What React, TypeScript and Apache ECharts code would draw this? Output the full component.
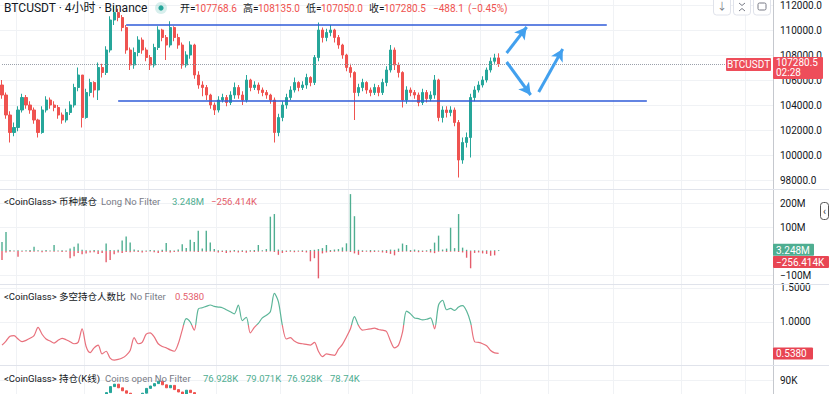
import React, { useEffect, useRef } from "react";
import * as echarts from "echarts";

const SLOTS = 193;
const categories = Array.from({ length: SLOTS }, (_, i) => String(i));

const priceOpen0 = 105600;
const priceClose = [
  104800, 103200, 101800, 102200, 103600, 104600, 104000, 103600, 102800, 101800,
  103600, 104400, 104000, 103800, 103200, 102800, 103400, 104000, 105400, 106400,
  103000, 105000, 105800, 105200, 107000, 106600, 108400, 110800, 111400, 111000,
  110200, 108400, 107200, 108200, 109200, 108400, 107800, 107200, 108600, 110000,
  109400, 108800, 110200, 109400, 108800, 107200, 108000, 108800, 106400, 105600,
  105400, 104800, 104000, 103600, 104400, 104600, 104200, 104800, 105400, 104800,
  104400, 106000, 105400, 105600, 105200, 105000, 104800, 104400, 101800, 103000,
  104000, 104600, 105200, 105800, 105400, 105600, 106200, 105800, 107800, 110000,
  109400, 109800, 110000, 109400, 108800, 108000, 107000, 106600, 105000, 105400,
  105800, 105200, 105000, 105400, 105000, 105800, 106800, 108400, 107200, 106600,
  104400, 105200, 105000, 104800, 104200, 105000, 104500, 104800, 106000, 103000,
  103600, 103400, 103600, 102600, 99600, 101000, 101400, 104600, 105200, 105600,
  106000, 106800, 107500, 107768.6, 107280.5,
];
const priceHigh = [
  106000, 105000, 103500, 102600, 103900, 104900, 104800, 104300, 103800, 102900,
  103900, 104700, 104600, 104300, 104000, 103400, 103700, 104300, 105700, 107000,
  106400, 105300, 106100, 105900, 107400, 107300, 108700, 111100, 111900, 111700,
  111200, 110400, 108600, 108600, 109500, 109400, 108600, 108000, 108900, 110300,
  110100, 109600, 110700, 110300, 109700, 109000, 108300, 109100, 108900, 106700,
  105900, 105600, 104900, 104200, 104700, 104900, 104800, 105100, 105800, 105600,
  105100, 106400, 106100, 105900, 105800, 105400, 105200, 104900, 104600, 103300,
  104300, 104900, 105500, 106200, 105900, 105900, 106500, 106300, 108000, 110600,
  110200, 110100, 110400, 110100, 109600, 108900, 108100, 107300, 106700, 105700,
  106100, 105900, 105400, 105700, 105600, 106100, 107100, 108800, 108600, 107400,
  106700, 105500, 105400, 105200, 105000, 105300, 105200, 105100, 106400, 106100,
  103900, 103900, 103900, 103800, 102800, 101400, 101800, 104900, 105500, 105900,
  106300, 107000, 107800, 108100, 108135,
];
const priceLow = [
  104500, 102900, 101000, 101500, 101900, 103400, 103700, 103300, 102500, 101400,
  101700, 103400, 103700, 103500, 102900, 102500, 102600, 103200, 103800, 105100,
  102200, 102900, 104700, 104600, 104400, 106200, 106400, 108200, 110400, 110700,
  109900, 108100, 106800, 106900, 107900, 108100, 107500, 106800, 107000, 108400,
  109100, 107600, 108600, 109100, 108500, 106900, 107000, 107700, 106100, 105300,
  104700, 104400, 103700, 103200, 103400, 104200, 103900, 104000, 104500, 104500,
  104000, 104200, 105100, 105200, 104900, 104700, 104500, 104100, 101000, 101500,
  102700, 103700, 104400, 105000, 105100, 105200, 105300, 105500, 105600, 107500,
  109000, 109100, 109500, 109000, 108500, 107700, 106700, 106200, 102800, 104700,
  105100, 104900, 104700, 104800, 104700, 104800, 105500, 106600, 106800, 106200,
  103800, 104100, 104700, 104500, 103900, 104000, 104200, 104300, 104500, 102700,
  102600, 103000, 103100, 102300, 98200, 99300, 100600, 99800, 104300, 105000,
  105400, 105800, 106600, 107300, 107050,
];

const liqLong = [
  38, 79, 4, 2, 3, 2, 3, 4, 18, 3, 2, 4, 2, 25, 2, 3, 2, 10, 18, 31,
  5, 3, 2, 4, 3, 2, 31, 4, 3, 5, 44, 60, 35, 6, 3, 2, 2, 4, 3, 2,
  5, 33, 3, 2, 6, 28, 12, 47, 37, 84, 10, 84, 35, 8, 3, 2, 3, 2, 4, 2,
  3, 2, 3, 4, 25, 3, 8, 143, 154, 6, 3, 2, 3, 2, 2, 3, 2, 4, 5, 8,
  12, 25, 4, 6, 8, 15, 32, 237, 145, 5, 3, 2, 4, 3, 2, 3, 4, 6, 5, 10,
  31, 25, 4, 6, 3, 2, 3, 8, 35, 64, 6, 10, 97, 12, 154, 14, 5, 2, 3, 2,
  2, 3, 2, 3, 3.248,
];
const liqShort = [
  -37, -6, -3, -2, -24, -3, -2, -4, -3, -2, -5, -3, -2, -3, -2, -4, -3, -30, -22, -8,
  -14, -10, -6, -5, -12, -8, -47, -37, -14, -6, -8, -4, -5, -3, -4, -6, -3, -2, -5, -8,
  -4, -3, -6, -4, -3, -2, -3, -2, -3, -4, -2, -3, -2, -3, -6, -4, -8, -5, -3, -6,
  -4, -7, -3, -4, -3, -2, -3, -2, -4, -16, -8, -4, -3, -5, -3, -4, -6, -43, -30, -114,
  -10, -6, -4, -3, -2, -3, -2, -4, -10, -16, -4, -3, -5, -4, -3, -6, -8, -12, -18, -4,
  -3, -2, -4, -3, -5, -4, -3, -6, -9, -3, -2, -4, -3, -2, -4, -6, -28, -72, -8, -6,
  -10, -12, -20, -18, -0.256414,
];

const lsRatio = [
  0.66, 0.72, 0.79, 0.8, 0.75, 0.71, 0.73, 0.76, 0.8, 0.92,
  0.82, 0.75, 0.72, 0.69, 0.73, 0.76, 0.74, 0.71, 0.68, 0.7,
  0.9, 0.64, 0.55, 0.62, 0.66, 0.53, 0.57, 0.47, 0.44, 0.45,
  0.47, 0.51, 0.58, 0.77, 0.68, 0.7, 0.82, 0.84, 0.78, 0.68,
  0.64, 0.62, 0.59, 0.57, 0.68, 0.88, 1.05, 1.0, 0.88, 1.19,
  1.21, 1.23, 1.25, 1.23, 1.22, 1.21, 1.18, 1.15, 1.12, 1.25,
  1.02, 1.07, 0.84, 0.92, 0.98, 1.06, 1.1, 1.15, 1.42, 1.3,
  0.95, 0.75, 0.77, 0.72, 0.69, 0.68, 0.67, 0.66, 0.7, 0.57,
  0.49, 0.53, 0.52, 0.51, 0.6, 0.67, 0.78, 0.9, 1.08, 0.95,
  0.88, 0.89, 0.9, 0.91, 0.89, 0.88, 0.86, 0.72, 0.62, 0.66,
  0.85, 1.16, 1.12, 1.06, 1.05, 1.03, 1.04, 1.06, 0.9, 1.25,
  1.32, 1.18, 1.2, 1.17, 1.22, 1.24, 1.16, 0.99, 0.71, 0.7,
  0.68, 0.65, 0.58, 0.545, 0.538,
];

const oiOpen0 = 85.0;
const oiClose = [
  85.4, 85.9, 86.3, 85.8, 85.5, 85.9, 86.2, 86.0, 86.4, 86.8,
  86.1, 85.7, 85.9, 86.3, 86.6, 86.9, 86.5, 86.2, 85.8, 85.4,
  86.0, 86.4, 86.1, 86.7, 87.0, 87.3, 87.9, 88.9, 89.3, 88.7,
  88.2, 87.8, 87.0, 86.5, 87.2, 87.8, 88.6, 89.0, 89.4, 89.8,
  89.2, 88.7, 89.1, 88.4, 88.0, 87.5, 88.3, 87.9, 86.8, 85.9,
  85.3, 84.8, 84.2, 83.9, 84.3, 84.6, 84.1, 84.5, 84.9, 84.4,
  84.0, 84.7, 84.3, 84.5, 84.2, 83.9, 83.6, 83.2, 81.8, 82.3,
  82.8, 83.1, 83.5, 83.9, 83.6, 83.8, 84.2, 84.0, 84.9, 85.8,
  85.4, 85.6, 85.9, 85.5, 85.1, 84.7, 84.2, 83.9, 82.6, 82.9,
  83.2, 82.9, 82.7, 83.0, 82.8, 83.3, 83.8, 84.5, 84.0, 83.6,
  82.4, 82.8, 82.6, 82.5, 82.1, 82.4, 82.0, 82.2, 82.8, 81.3,
  81.0, 80.6, 80.1, 79.6, 77.9, 78.2, 78.5, 79.3, 79.6, 79.4,
  79.0, 78.6, 78.2, 76.928, 78.74,
];

const priceTicks = [98000, 100000, 102000, 104000, 106000, 108000, 110000, 112000];
const liqTicks = [-100, 100, 200];
const ratioTicks = [1.0, 1.5];
const oiTicks = [90];
const timeGridIdx = [4, 21, 37, 54, 70, 87, 103, 120, 137, 153, 170, 186];

const resistance = 110400;
const support = 104320;
const lastPrice = 107280.5;
const lastLong = 3.248;
const lastShort = -0.256414;
const lastRatio = 0.538;
const ratioSplit = 0.95;

const levelLines = [
  { price: resistance, from: 31, to: 151 },
  { price: support, from: 29, to: 161 },
];
const arrows = [
  [[126, 108160], [131, 110240]],
  [[126, 107440], [132, 104800]],
  [[134, 105040], [140, 108480]],
];

const UP = "#26a69a";
const DOWN = "#ef5350";
const TXT = "#131722";
const GREY = "#787b86";
const FONT = 'Roboto, "Noto Sans CJK SC", sans-serif';
const GRIDC = "#f0f2f5";
const AXISC = "#c5c8ce";
const RATIO_UP = "#5bb598";
const RATIO_DN = "#e8707c";
const LIQ_UP = "#4fae91";
const LIQ_DN = "#e45d6b";
const TAG_RED = "#ee4d5a";

function txt(x: number, y: number, text: string, fill: string, size = 10, align = "left", z = 50) {
  return {
    type: "text",
    x,
    y,
    z,
    silent: true,
    style: { text, fill, fontSize: size, fontFamily: FONT, align, verticalAlign: "middle" },
  };
}

function tag(x: number, yTop: number, w: number, h: number, fill: string, text: string) {
  return [
    { type: "rect", z: 60, silent: true, shape: { x, y: yTop, width: w, height: h, r: 1 }, style: { fill } },
    txt(x + 3, yTop + h / 2 + 0.5, text, "#ffffff", 10, "left", 61),
  ];
}

export default function App() {
  const ref = useRef<HTMLDivElement>(null);
  useEffect(() => {
    if (!ref.current) return;
    const chart = echarts.init(ref.current, null, { renderer: "svg" });

    const candles = priceClose.map((c, i) => [
      i === 0 ? priceOpen0 : priceClose[i - 1],
      c,
      priceLow[i],
      priceHigh[i],
    ]);
    const oiCandles = oiClose.map((c, i) => {
      const o = i === 0 ? oiOpen0 : oiClose[i - 1];
      return [o, c, Math.min(o, c), Math.max(o, c)];
    });

    const xAxisBase = (gridIndex: number) => ({
      type: "category",
      gridIndex,
      data: categories,
      boundaryGap: true,
      axisLine: { show: false },
      axisTick: { show: false },
      axisLabel: { show: false },
      splitLine: {
        show: true,
        interval: (idx: number) => timeGridIdx.indexOf(idx) >= 0,
        lineStyle: { color: GRIDC, width: 1 },
      },
    });
    const yAxisBase = (gridIndex: number, min: number, max: number, ticks: number[], fmt: (v: number) => string) => ({
      type: "value",
      gridIndex,
      position: "right",
      min,
      max,
      axisLine: { show: true, onZero: false, lineStyle: { color: AXISC, width: 1 } },
      axisTick: { show: false, customValues: ticks },
      axisLabel: {
        customValues: ticks,
        formatter: fmt,
        color: TXT,
        fontSize: 10,
        fontFamily: FONT,
        margin: 7,
      },
      splitLine: { show: true, lineStyle: { color: GRIDC, width: 1 } },
    });

    const lineData: any[] = [];
    levelLines.forEach((l) => {
      lineData.push([
        { coord: [l.from, l.price], lineStyle: { color: "#2f5bd8", width: 1.5, type: "solid" } },
        { coord: [l.to, l.price] },
      ]);
    });
    lineData.push([
      { coord: [0, lastPrice], lineStyle: { color: "#9aa0aa", width: 1, type: "dotted" } },
      { coord: [SLOTS - 1, lastPrice] },
    ]);
    const arrowData: any[] = arrows.map((a) => [{ coord: a[0] }, { coord: a[1] }]);

    chart.setOption({
      animation: false,
      backgroundColor: "#ffffff",
      textStyle: { fontFamily: FONT },
      grid: [
        { left: 0, right: 56, top: 0, height: 189 },
        { left: 0, right: 56, top: 190, height: 94 },
        { left: 0, right: 56, top: 285, height: 80 },
        { left: 0, right: 56, top: 366, height: 28 },
      ],
      xAxis: [xAxisBase(0), xAxisBase(1), xAxisBase(2), xAxisBase(3)],
      yAxis: [
        yAxisBase(0, 97280, 112400, priceTicks, (v: number) => v.toFixed(1)),
        yAxisBase(1, -137.5, 254.17, liqTicks, (v: number) => (v < 0 ? "\u2212" + Math.abs(v) + "M" : v + "M")),
        yAxisBase(2, 0.3676, 1.5441, ratioTicks, (v: number) => v.toFixed(4)),
        yAxisBase(3, 87.667, 92.333, oiTicks, (v: number) => v + "K"),
      ],
      series: [
        {
          type: "candlestick",
          xAxisIndex: 0,
          yAxisIndex: 0,
          data: candles,
          barWidth: 2.6,
          itemStyle: { color: UP, color0: DOWN, borderColor: UP, borderColor0: DOWN, borderWidth: 1 },
          markLine: {
            silent: true,
            animation: false,
            symbol: ["none", "none"],
            label: { show: false },
            data: lineData,
          },
        },
        {
          type: "bar",
          xAxisIndex: 1,
          yAxisIndex: 1,
          data: liqLong,
          barWidth: 1.4,
          barGap: "-100%",
          itemStyle: { color: LIQ_UP },
        },
        {
          type: "bar",
          xAxisIndex: 1,
          yAxisIndex: 1,
          data: liqShort,
          barWidth: 1.4,
          barGap: "-100%",
          itemStyle: { color: LIQ_DN },
        },
        {
          id: "ratio",
          type: "line",
          xAxisIndex: 2,
          yAxisIndex: 2,
          data: lsRatio,
          showSymbol: false,
          smooth: 0.3,
          lineStyle: { width: 1.2, color: RATIO_DN },
        },
        {
          type: "candlestick",
          xAxisIndex: 3,
          yAxisIndex: 3,
          data: oiCandles,
          clip: true,
          barWidth: 2.6,
          itemStyle: { color: UP, color0: DOWN, borderColor: UP, borderColor0: DOWN, borderWidth: 1 },
        },
        {
          type: "line",
          xAxisIndex: 0,
          yAxisIndex: 0,
          data: [],
          markLine: {
            silent: true,
            animation: false,
            symbol: ["none", "arrow"],
            symbolSize: [10, 12],
            label: { show: false },
            lineStyle: { color: "#42a0ee", width: 3, type: "solid" },
            data: arrowData,
          },
        },
      ],
    });

    const py = chart.convertToPixel({ gridIndex: 0 }, [0, lastPrice])[1];
    const gy = chart.convertToPixel({ gridIndex: 1 }, [0, lastLong])[1];
    const ry = chart.convertToPixel({ gridIndex: 1 }, [0, lastShort])[1];
    const qy = chart.convertToPixel({ gridIndex: 2 }, [0, lastRatio])[1];
    const sy = chart.convertToPixel({ gridIndex: 2 }, [0, ratioSplit])[1];
    const top2 = 285;
    const bot2 = 365;
    const f = (sy - top2) / (bot2 - top2);
    const HS = 9.5;

    const g: any[] = [
      { type: "line", silent: true, z: 40, shape: { x1: 0, y1: 189.5, x2: 829, y2: 189.5 }, style: { stroke: "#e0e3eb", lineWidth: 1 } },
      { type: "line", silent: true, z: 40, shape: { x1: 0, y1: 284.5, x2: 829, y2: 284.5 }, style: { stroke: "#e0e3eb", lineWidth: 1 } },
      { type: "line", silent: true, z: 40, shape: { x1: 0, y1: 365.5, x2: 829, y2: 365.5 }, style: { stroke: "#e0e3eb", lineWidth: 1 } },
      txt(4, 8, "BTCUSDT · 4小时 · Binance", TXT, 12),
      { type: "circle", silent: true, z: 50, shape: { cx: 161, cy: 8, r: 6 }, style: { fill: "rgba(38,166,154,0.18)" } },
      { type: "circle", silent: true, z: 51, shape: { cx: 161, cy: 8, r: 2.6 }, style: { fill: UP } },
      txt(180, 8, "开=", TXT),
      txt(195, 8, "107768.6", DOWN),
      txt(243, 8, "高=", TXT),
      txt(258, 8, "108135.0", DOWN),
      txt(306, 8, "低=", TXT),
      txt(321, 8, "107050.0", DOWN),
      txt(369, 8, "收=", TXT),
      txt(384, 8, "107280.5", DOWN),
      txt(433, 8, "\u2212488.1", DOWN),
      txt(468, 8, "(\u22120.45%)", DOWN),
      txt(4, 201, "<CoinGlass> 币种爆仓", TXT, HS),
      txt(101, 201, "Long No Filter", GREY, HS),
      txt(172, 201, "3.248M", LIQ_UP, HS),
      txt(211, 201, "\u2212256.414K", LIQ_DN, HS),
      txt(4, 296, "<CoinGlass> 多空持仓人数比", TXT, HS),
      txt(130, 296, "No Filter", GREY, HS),
      txt(175, 296, "0.5380", LIQ_DN, HS),
      txt(4, 378, "<CoinGlass> 持仓(K线)", TXT, HS),
      txt(105, 378, "Coins open No Filter", GREY, HS),
      txt(203, 378, "76.928K", LIQ_UP, HS),
      txt(246, 378, "79.071K", LIQ_UP, HS),
      txt(287, 378, "76.928K", LIQ_UP, HS),
      txt(330, 378, "78.74K", LIQ_UP, HS),
      { type: "rect", silent: true, z: 50, shape: { x: 713.5, y: -4, width: 17, height: 19, r: 3 }, style: { fill: "#fff", stroke: "#e0e3eb" } },
      txt(722, 6, "↓", GREY, 10, "center", 51),
      { type: "rect", silent: true, z: 50, shape: { x: 733.5, y: -4, width: 17, height: 19, r: 3 }, style: { fill: "#fff", stroke: "#e0e3eb" } },
      { type: "polyline", silent: true, z: 51, shape: { points: [[739, 3], [742, 5.5], [745, 3]] }, style: { stroke: GREY, fill: null, lineWidth: 1 } },
      { type: "polyline", silent: true, z: 51, shape: { points: [[739, 11], [742, 8.5], [745, 11]] }, style: { stroke: GREY, fill: null, lineWidth: 1 } },
      { type: "rect", silent: true, z: 50, shape: { x: 753.5, y: -4, width: 17, height: 19, r: 3 }, style: { fill: "#fff", stroke: "#e0e3eb" } },
      { type: "rect", silent: true, z: 51, shape: { x: 758, y: 3, width: 8, height: 7, r: 1.5 }, style: { fill: null, stroke: GREY, lineWidth: 1 } },
      { type: "rect", silent: true, z: 50, shape: { x: 820.5, y: 202.5, width: 8, height: 17, r: 3 }, style: { fill: "#fff", stroke: "#555", lineWidth: 1 } },
      txt(824.5, 211, "‹", "#333", 10, "center", 51),
      { type: "rect", z: 60, silent: true, shape: { x: 773, y: py - 7, width: 50, height: 22, r: 1 }, style: { fill: TAG_RED } },
      txt(776, py - 1, "107280.5", "#ffffff", 10, "left", 61),
      txt(776, py + 9, "02:28", "#ffffff", 10, "left", 61),
      { type: "rect", z: 60, silent: true, shape: { x: 726, y: py - 6, width: 45, height: 13, r: 1 }, style: { fill: TAG_RED } },
      txt(748.5, py + 0.5, "BTCUSDT", "#ffffff", 10, "center", 61),
      ...tag(773, gy - 6.5, 41, 12, LIQ_UP, "3.248M"),
      ...tag(773, ry + 5, 56, 12, "#e84553", "\u2212256.414K"),
      ...tag(773, qy - 6, 40, 12, "#e84553", "0.5380"),
    ];
    chart.setOption({
      graphic: g,
      series: [
        {
          id: "ratio",
          lineStyle: {
            width: 1.2,
            color: {
              type: "linear",
              x: 0,
              y: top2,
              x2: 0,
              y2: bot2,
              global: true,
              colorStops: [
                { offset: 0, color: RATIO_UP },
                { offset: f, color: RATIO_UP },
                { offset: f, color: RATIO_DN },
                { offset: 1, color: RATIO_DN },
              ],
            },
          },
        },
      ],
    });

    return () => chart.dispose();
  }, []);

  return (
    <div
      ref={ref}
      style={{ position: "fixed", left: 0, top: 0, width: 829, height: 394, background: "#fff" }}
    />
  );
}
